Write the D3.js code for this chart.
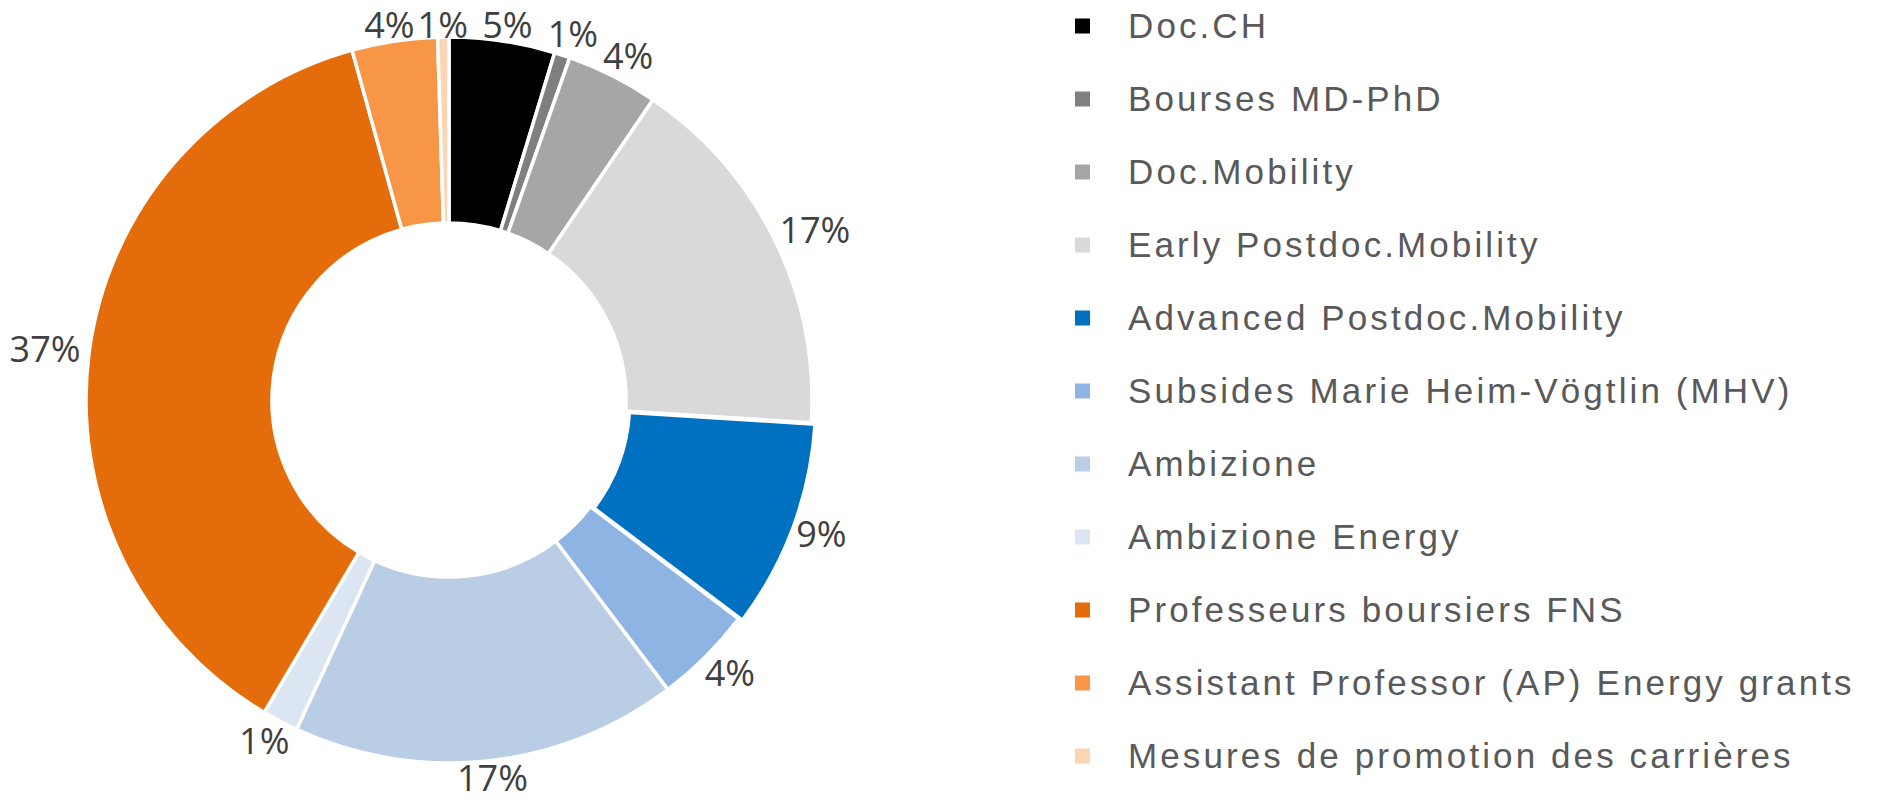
<!DOCTYPE html>
<html>
<head>
<meta charset="utf-8">
<script src="https://cdn.jsdelivr.net/npm/d3@7"></script>
<style>
  body { margin: 0; background: #fff; }
  #chart { width: 1878px; height: 805px; }
</style>
</head>
<body>
<div id="chart"></div>
<script>
// Chart data
const categories = [
    'Doc.CH',
    'Bourses MD-PhD',
    'Doc.Mobility',
    'Early Postdoc.Mobility',
    'Advanced Postdoc.Mobility',
    'Subsides Marie Heim-Vögtlin (MHV)',
    'Ambizione',
    'Ambizione Energy',
    'Professeurs boursiers FNS',
    'Assistant Professor (AP) Energy grants',
    'Mesures de promotion des carrières'
];
const shares = [4.7, 0.7, 4.1, 16.5, 9.3, 4.4, 17.2, 1.6, 37.2, 3.8, 0.5];
const labels = ['5%', '1%', '4%', '17%', '9%', '4%', '17%', '1%', '37%', '4%', '1%'];
const colors = ['#000000', '#7f7f7f', '#a6a6a6', '#d9d9d9', '#0070c0', '#8eb4e3',
                '#b9cde5', '#dce6f2', '#e46c0a', '#f79646', '#fcd5b5'];

const width = 1878;
const height = 805;
const cx = 449, cy = 400;
const outerR = 363, innerR = 177;

const svg = d3.select('#chart')
    .append('svg')
    .attr('width', width)
    .attr('height', height);

const data = categories.map((c, i) => ({ name: c, value: shares[i], label: labels[i], color: colors[i] }));

const pie = d3.pie()
    .sort(null)
    .value(d => d.value);

const arcs = pie(data);

const arc = d3.arc()
    .innerRadius(innerR)
    .outerRadius(outerR);

const g = svg.append('g')
    .attr('transform', `translate(${cx},${cy})`);

// Advanced Postdoc.Mobility is pulled out a little
const explode = d => d.data.name === 'Advanced Postdoc.Mobility' ? 4 : 0;

g.selectAll('path.slice')
    .data(arcs)
    .enter()
    .append('path')
    .attr('class', 'slice')
    .attr('d', arc)
    .attr('fill', d => d.data.color)
    .attr('stroke', '#fff')
    .attr('stroke-width', 3.5)
    .attr('transform', d => {
        const a = (d.startAngle + d.endAngle) / 2;
        const o = explode(d);
        return `translate(${o * Math.sin(a)},${-o * Math.cos(a)})`;
    });

// Percentage labels outside the ring
const labelFont = 36;
const labelGap = 9;
const tmp = g.append('text')
    .attr('font-family', '"Open Sans", sans-serif')
    .attr('font-size', labelFont);

arcs.forEach(d => {
    tmp.text(d.data.label);
    const w = tmp.node().getComputedTextLength();
    const h = labelFont * 0.75;
    const a = (d.startAngle + d.endAngle) / 2;
    const sx = Math.sin(a), sy = -Math.cos(a);
    const r = outerR + labelGap;
    d.lx = r * sx + sx * w / 2;
    // keep labels inside the picture
    d.ly = Math.max(25 - cy, Math.min(height - 27 - cy, r * sy + sy * h / 2));
});
tmp.remove();

g.selectAll('text.pct')
    .data(arcs)
    .enter()
    .append('text')
    .attr('class', 'pct')
    .attr('x', d => d.lx)
    .attr('y', d => d.ly)
    .attr('dy', '0.36em')
    .attr('text-anchor', 'middle')
    .attr('font-family', '"Open Sans", sans-serif')
    .attr('font-size', labelFont)
    .attr('fill', '#404040')
    .text(d => d.data.label);

// Legend
const legendY = d3.scalePoint()
    .domain(categories)
    .range([26, 756]);

const legend = svg.append('g')
    .attr('class', 'legend');

const item = legend.selectAll('g')
    .data(data)
    .enter()
    .append('g')
    .attr('transform', d => `translate(1075,${legendY(d.name)})`);

item.append('rect')
    .attr('x', 0)
    .attr('y', -7.5)
    .attr('width', 15)
    .attr('height', 15)
    .attr('fill', d => d.color);

item.append('text')
    .attr('x', 53)
    .attr('y', 0)
    .attr('dy', '0.35em')
    .attr('font-family', '"Liberation Sans", Arial, sans-serif')
    .attr('font-size', 35)
    .attr('letter-spacing', 3.1)
    .attr('fill', '#595959')
    .text(d => d.name);
</script>
</body>
</html>
